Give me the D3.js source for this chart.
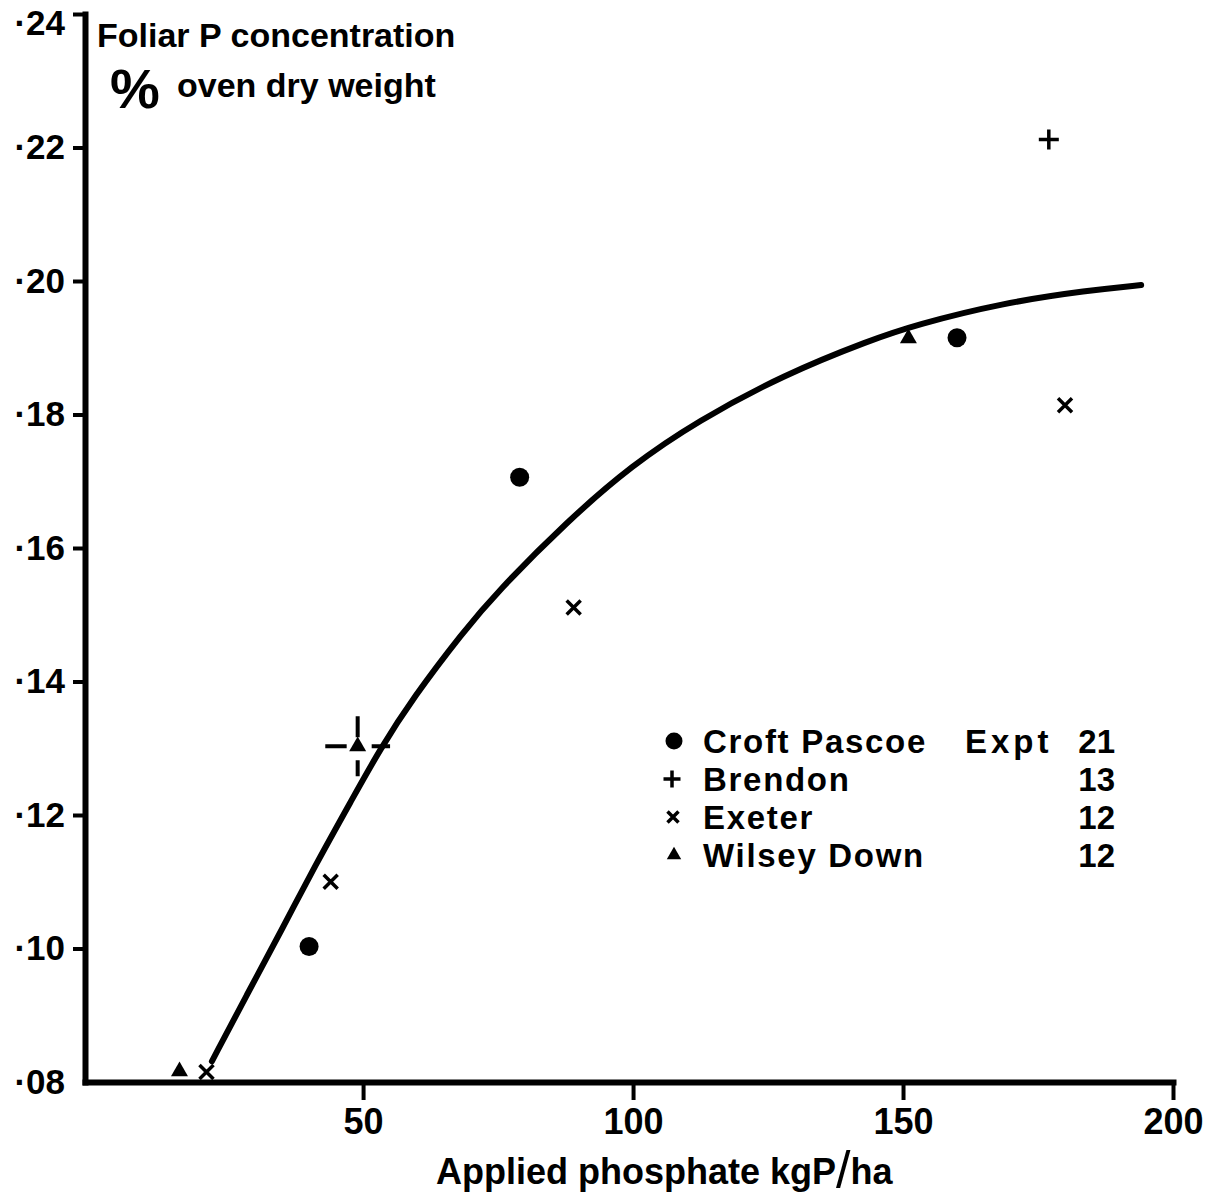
<!DOCTYPE html>
<html>
<head>
<meta charset="utf-8">
<script src="https://cdn.jsdelivr.net/npm/d3@7"></script>
<style>
  body { margin: 0; background: #fff; }
  text { font-family: "Liberation Sans", Arial, sans-serif; font-weight: bold; fill: #000; }
</style>
</head>
<body>
<script>
// values
const sites = ["Croft Pascoe", "Brendon", "Exeter", "Wilsey Down"];
const exptNumbers = ["21", "13", "12", "12"];

const croftX = [40, 79, 160];
const croftY = [0.1003, 0.1706, 0.1915];
const brendonX = [177];
const brendonY = [0.2212];
const exeterX = [21, 44, 89, 180];
const exeterY = [0.0815, 0.110, 0.1511, 0.1814];
const wilseyX = [16, 49, 151];
const wilseyY = [0.0816, 0.1303, 0.1914];

// error bar on Wilsey Down at 50 kg
const errX = [49];
const errY = [0.1303];
const errXSize = [6];
const errYSize = [0.0045];

// fitted curve
const fitX = [22, 28.5, 35, 41.1, 48, 53.1, 59.3, 68.5, 74.8, 87.8, 99.8, 111.9, 128, 144.1, 152.2, 168.3, 184.4, 194.1];
const fitY = [0.0831, 0.0931, 0.1029, 0.1124, 0.1224, 0.1298, 0.1376, 0.1474, 0.1534, 0.1640, 0.1724, 0.1790, 0.1860, 0.1912, 0.1934, 0.1967, 0.1986, 0.1994];

const xTicks = [50, 100, 150, 200];
const yTicks = [0.08, 0.10, 0.12, 0.14, 0.16, 0.18, 0.20, 0.22, 0.24];

const svg = d3.select("body").append("svg")
  .attr("width", 1218)
  .attr("height", 1201);

const x = d3.scaleLinear().domain([-1.5, 200]).range([85, 1173]);
const y = d3.scaleLinear().domain([0.08, 0.24]).range([1082, 14]);

// axes
const xAxis = svg.append("g")
  .attr("transform", "translate(0,1082)")
  .call(d3.axisBottom(x).tickValues(xTicks).tickSize(18).tickPadding(8).tickSizeOuter(0));
xAxis.select(".domain").attr("stroke-width", 6).attr("stroke-linecap", "square");
xAxis.selectAll(".tick line").attr("stroke-width", 4);
xAxis.selectAll(".tick text").attr("font-size", 36).attr("font-family", null);

const yAxis = svg.append("g")
  .attr("transform", "translate(85,0)")
  .call(d3.axisLeft(y).tickValues(yTicks).tickSize(12).tickPadding(8).tickSizeOuter(0)
    .tickFormat((d) => "\u00B7" + d3.format(".2f")(d).slice(2)));
yAxis.select(".domain").attr("stroke-width", 6).attr("stroke-linecap", "square");
yAxis.selectAll(".tick line").attr("stroke-width", 4)
  .attr("opacity", (d) => (d === 0.08 ? 0 : 1));
yAxis.selectAll(".tick text").attr("font-size", 35).attr("font-family", null)
  .attr("dy", (d) => (d === 0.24 ? "0.58em" : "0.32em"));
svg.selectAll(".domain").attr("stroke", "#000");
svg.selectAll(".tick line").attr("stroke", "#000");

// fitted curve
const line = d3.line()
  .x((d) => x(d[0]))
  .y((d) => y(d[1]))
  .curve(d3.curveBasis);

svg.append("path")
  .datum(d3.zip(fitX, fitY))
  .attr("d", line)
  .attr("fill", "none")
  .attr("stroke", "#000")
  .attr("stroke-width", 6)
  .attr("stroke-linecap", "round");

// marker drawing helpers
function plusPath(cx, cy, h) {
  return `M${cx - h},${cy}h${2 * h}M${cx},${cy - h}v${2 * h}`;
}
function timesPath(cx, cy, h) {
  return `M${cx - h},${cy - h}l${2 * h},${2 * h}M${cx - h},${cy + h}l${2 * h},${-2 * h}`;
}
const circleSym = d3.symbol().type(d3.symbolCircle);
const triSym = d3.symbol().type(d3.symbolTriangle);

// Wilsey Down error bars (gap around the marker)
const gap = 11;
errX.forEach((ex, i) => {
  const cx = x(ex), cy = y(errY[i]);
  const x0 = x(ex - errXSize[i]), x1 = x(ex + errXSize[i]);
  const y0 = y(errY[i] + errYSize[i]), y1 = y(errY[i] - errYSize[i]);
  svg.append("path")
    .attr("d", `M${x0},${cy}H${cx - gap}M${cx + gap + 3},${cy}H${x1}M${cx},${y0}V${cy - gap + 2}M${cx},${cy + gap + 3}V${y1}`)
    .attr("stroke", "#000")
    .attr("stroke-width", 4)
    .attr("fill", "none");
});

// points
svg.selectAll(".croft")
  .data(d3.zip(croftX, croftY))
  .enter().append("path")
  .attr("class", "croft")
  .attr("transform", (d) => `translate(${x(d[0])},${y(d[1])})`)
  .attr("d", circleSym.size(Math.PI * 9.5 * 9.5))
  .attr("fill", "#000");

svg.selectAll(".brendon")
  .data(d3.zip(brendonX, brendonY))
  .enter().append("path")
  .attr("class", "brendon")
  .attr("d", (d) => plusPath(x(d[0]), y(d[1]), 10))
  .attr("stroke", "#000")
  .attr("stroke-width", 3.5)
  .attr("fill", "none");

svg.selectAll(".exeter")
  .data(d3.zip(exeterX, exeterY))
  .enter().append("path")
  .attr("class", "exeter")
  .attr("d", (d) => timesPath(x(d[0]), y(d[1]), 7))
  .attr("stroke", "#000")
  .attr("stroke-width", 3.5)
  .attr("fill", "none");

svg.selectAll(".wilsey")
  .data(d3.zip(wilseyX, wilseyY))
  .enter().append("path")
  .attr("class", "wilsey")
  .attr("transform", (d) => `translate(${x(d[0])},${y(d[1])})`)
  .attr("d", triSym.size(125))
  .attr("fill", "#000");

// y axis title
const yTitle = svg.append("g");
yTitle.append("text").attr("x", 97).attr("y", 47).attr("font-size", 34)
  .text("Foliar P concentration");
yTitle.append("text").attr("x", 110).attr("y", 108).attr("font-size", 56)
  .attr("font-weight", "normal").text("%");
yTitle.append("text").attr("x", 177).attr("y", 97).attr("font-size", 34)
  .text("oven dry weight");

// x axis title
const xTitle = svg.append("text")
  .attr("x", 436)
  .attr("y", 1184)
  .attr("font-size", 36);
xTitle.append("tspan").text("Applied phosphate kgP");
xTitle.append("tspan").attr("font-size", 52).attr("font-weight", "normal").attr("dy", 4).text("/");
xTitle.append("tspan").attr("dy", -4).text("ha");

// legend
const legendX = 674;
const legendBase = [753, 791, 829, 867];
const legend = svg.append("g");
sites.forEach((name, i) => {
  const cy = legendBase[i] - 12;
  if (i === 0) {
    legend.append("circle").attr("cx", legendX).attr("cy", cy).attr("r", 8.5).attr("fill", "#000");
  } else if (i === 1) {
    legend.append("path").attr("d", plusPath(legendX - 2, cy, 8.5))
      .attr("stroke", "#000").attr("stroke-width", 3.5).attr("fill", "none");
  } else if (i === 2) {
    legend.append("path").attr("d", timesPath(legendX - 1, cy, 5.5))
      .attr("stroke", "#000").attr("stroke-width", 3.5).attr("fill", "none");
  } else {
    legend.append("path").attr("transform", `translate(${legendX},${cy})`)
      .attr("d", d3.symbol().type(d3.symbolTriangle).size(90)()).attr("fill", "#000");
  }
  legend.append("text")
    .attr("x", 703).attr("y", legendBase[i])
    .attr("font-size", 33).attr("letter-spacing", 1.7)
    .text(name);
  legend.append("text")
    .attr("x", 1115).attr("y", legendBase[i])
    .attr("font-size", 33).attr("text-anchor", "end")
    .text(exptNumbers[i]);
});
legend.append("text")
  .attr("x", 965).attr("y", legendBase[0])
  .attr("font-size", 33).attr("letter-spacing", 4)
  .text("Expt");
</script>
</body>
</html>
